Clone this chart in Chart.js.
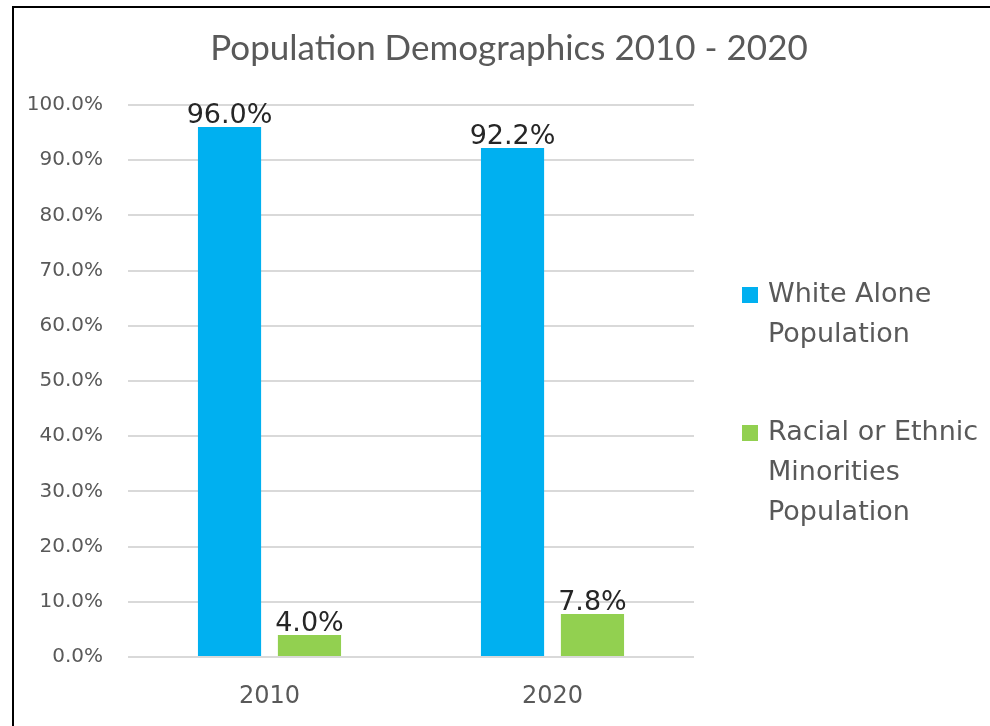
<!DOCTYPE html>
<html>
<head>
<meta charset="utf-8">
<script src="https://cdn.jsdelivr.net/npm/chart.js@4.4.1/dist/chart.umd.min.js"></script>
<style>
  html, body { margin: 0; padding: 0; background: #fff; }
  #wrap { position: relative; width: 990px; height: 726px; }
  #frame { position: absolute; left: 12px; top: 6px; right: -10px; bottom: -10px;
           border-left: 2px solid #000; border-top: 2px solid #000; pointer-events: none; }
  canvas { position: absolute; left: 0; top: 0; }
</style>
</head>
<body>
<div id="wrap">
  <canvas id="c" width="990" height="726"></canvas>
  <div id="frame"></div>
</div>
<script>
const chartTitle = 'Population Demographics 2010 - 2020';
const categories = ['2010', '2020'];
const whiteAlone = [96.0, 92.2];
const minorities = [4.0, 7.8];
const seriesNames = [['White Alone', 'Population'], ['Racial or Ethnic', 'Minorities', 'Population']];
const seriesColors = ['#00B0F0', '#92D050'];

const TEXT = '#595959';
const FONT = '"DejaVu Sans", Verdana, sans-serif';

const titlePlugin = {
  id: 'customTitle',
  afterDraw(chart) {
    const ctx = chart.ctx;
    ctx.save();
    ctx.font = '35px Lato, "Open Sans", sans-serif';
    ctx.fillStyle = TEXT;
    ctx.textAlign = 'center';
    ctx.textBaseline = 'middle';
    ctx.fillText(chartTitle, 509, 49);
    ctx.restore();
  }
};

const valueLabels = {
  id: 'valueLabels',
  afterDatasetsDraw(chart) {
    const ctx = chart.ctx;
    ctx.save();
    ctx.font = '27px ' + FONT;
    ctx.fillStyle = '#262626';
    ctx.textAlign = 'center';
    ctx.textBaseline = 'alphabetic';
    chart.data.datasets.forEach((ds, di) => {
      const meta = chart.getDatasetMeta(di);
      meta.data.forEach((bar, i) => {
        ctx.fillText(ds.data[i].toFixed(1) + '%', bar.x, bar.y - 4);
      });
    });
    ctx.restore();
  }
};

const sideLegend = {
  id: 'sideLegend',
  afterDraw(chart) {
    const ctx = chart.ctx;
    ctx.save();
    ctx.font = '27px ' + FONT;
    ctx.fillStyle = TEXT;
    ctx.textAlign = 'left';
    ctx.textBaseline = 'middle';
    const starts = [295, 433];
    const lineH = 40;
    chart.data.datasets.forEach((ds, di) => {
      const y0 = starts[di];
      ctx.fillStyle = ds.backgroundColor;
      ctx.fillRect(742, y0 - 8, 16, 16);
      ctx.fillStyle = TEXT;
      seriesNames[di].forEach((line, li) => {
        ctx.fillText(line, 768, y0 + li * lineH);
      });
    });
    ctx.restore();
  }
};

new Chart(document.getElementById('c'), {
  type: 'bar',
  data: {
    labels: categories,
    datasets: [
      { label: seriesNames[0].join(' '), data: whiteAlone, backgroundColor: seriesColors[0],
        categoryPercentage: 0.565, barPercentage: 0.79 },
      { label: seriesNames[1].join(' '), data: minorities, backgroundColor: seriesColors[1],
        categoryPercentage: 0.565, barPercentage: 0.79 }
    ]
  },
  options: {
    responsive: false,
    animation: false,
    layout: { padding: { left: 0, right: 296, top: 105, bottom: 0 } },
    plugins: {
      legend: { display: false },
      title: { display: false },
      tooltip: { enabled: false }
    },
    scales: {
      x: {
        grid: { display: false, drawTicks: false },
        border: { display: false },
        ticks: { color: TEXT, font: { family: FONT, size: 24 }, padding: 25 },
        afterFit(scale) { scale.height = 69; }
      },
      y: {
        min: 0, max: 100,
        grid: { color: '#D9D9D9', lineWidth: 2, drawTicks: false },
        border: { display: false },
        ticks: { stepSize: 10, color: TEXT, font: { family: FONT, size: 20 }, padding: 25,
                 callback: v => v.toFixed(1) + '%' },
        afterFit(scale) { scale.width = 128; }
      }
    }
  },
  plugins: [titlePlugin, valueLabels, sideLegend]
});
</script>
</body>
</html>
